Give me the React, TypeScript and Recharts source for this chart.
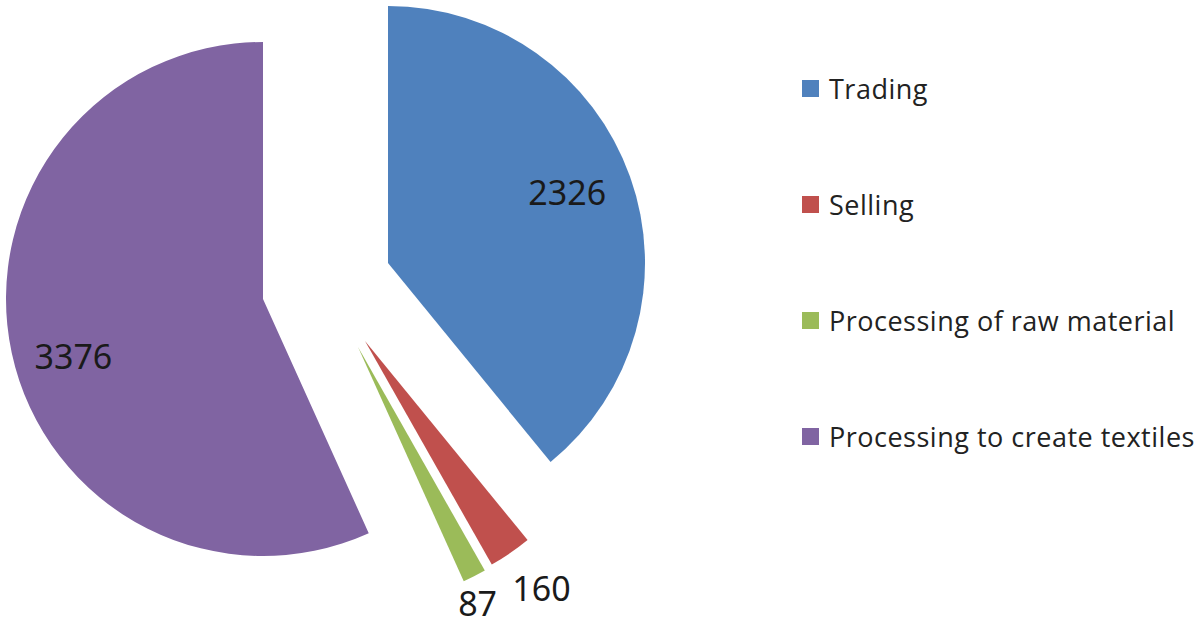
import { PieChart, Pie, Cell, Legend } from 'recharts';

const categories = ['Trading', 'Selling', 'Processing of raw material', 'Processing to create textiles'];
const values = [2326, 160, 87, 3376];
const colors = ['#4F81BD', '#C0504D', '#9BBB59', '#8064A2'];

// every slice is pulled out by its own amount, so each gets its own centre
const sliceCentres = [
  { cx: 388, cy: 263 },
  { cx: 365, cy: 341 },
  { cx: 358, cy: 347 },
  { cx: 263, cy: 299 },
];
// where the value label sits: fraction of radius, angle shift from the slice middle (deg)
const labelPos = [
  { r: 0.75, shift: 2 },
  { r: 1.18, shift: 1.2 },
  { r: 1.1, shift: -1.9 },
  { r: 0.77, shift: 4.5 },
];

const RADIUS = 257;
const RAD = Math.PI / 180;

const data = categories.map((name, i) => ({ name, value: values[i] }));

function renderLabel(props: any, slice: number) {
  if (props.index !== slice) return null;
  const { cx, cy, midAngle, outerRadius } = props;
  const pos = labelPos[slice];
  const a = (midAngle + pos.shift) * RAD;
  const x = cx + Math.cos(a) * outerRadius * pos.r;
  const y = cy - Math.sin(a) * outerRadius * pos.r;
  return (
    <text
      x={x}
      y={y}
      textAnchor="middle"
      dominantBaseline="central"
      fill="#1a1a1a"
      style={{ fontFamily: '"Noto Sans", sans-serif', fontSize: 34 }}
    >
      {values[slice]}
    </text>
  );
}

function LegendList() {
  return (
    <ul style={{ listStyle: 'none', margin: 0, padding: 0, fontFamily: '"Open Sans", sans-serif' }}>
      {categories.map((c, i) => (
        <li key={c} style={{ height: 116, display: 'flex', alignItems: 'center' }}>
          <span style={{ width: 17, height: 17, background: colors[i], marginRight: 10, display: 'inline-block', flexShrink: 0 }} />
          <span style={{ fontSize: 27, letterSpacing: 0.5, color: '#222', whiteSpace: 'nowrap' }}>{c}</span>
        </li>
      ))}
    </ul>
  );
}

export default function App() {
  return (
    <div style={{ position: 'absolute', left: 0, top: 0, width: 1197, height: 622, background: '#fff' }}>
      <PieChart width={1197} height={622} margin={{ top: 0, right: 0, bottom: 0, left: 0 }}>
        {sliceCentres.map((c, k) => (
          <Pie
            key={k}
            data={data}
            dataKey="value"
            nameKey="name"
            cx={c.cx}
            cy={c.cy}
            outerRadius={RADIUS}
            startAngle={90}
            endAngle={-270}
            stroke="none"
            labelLine={false}
            label={(p: any) => renderLabel(p, k)}
            isAnimationActive={false}
          >
            {data.map((d, i) => (
              <Cell key={d.name} fill={i === k ? colors[i] : 'transparent'} />
            ))}
          </Pie>
        ))}
        <Legend
          content={() => <LegendList />}
          wrapperStyle={{ position: 'absolute', left: 802, top: 30, width: 395 }}
        />
      </PieChart>
    </div>
  );
}
